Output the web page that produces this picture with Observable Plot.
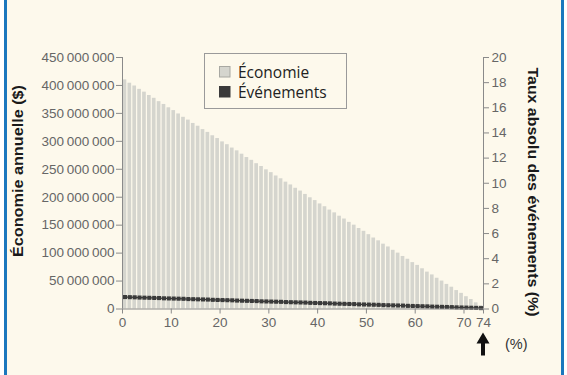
<!DOCTYPE html>
<html>
<head>
<meta charset="utf-8">
<script src="https://cdn.jsdelivr.net/npm/d3@7"></script>
<script src="https://cdn.jsdelivr.net/npm/@observablehq/plot@0.6"></script>
<style>
  html, body { margin: 0; padding: 0; background: #ffffff; }
  #frame { position: relative; width: 567px; height: 375px; overflow: hidden; background: #ffffff; }
  #panel { position: absolute; left: 4px; top: 0; width: 560px; height: 375px; background: #fdf9ec;
           border-left: 3px solid #1b77bd; border-right: 3px solid #1b77bd; box-sizing: border-box; }
  #chart { position: absolute; left: 0; top: 0; }
</style>
</head>
<body>
<div id="frame"><div id="panel"></div><div id="chart"></div></div>
<script>
// ---- data ----
const pct = d3.range(74); // categories 0..73 (%)
const economy = [ // annual savings, millions of $
  410, 404, 399, 393, 388, 382, 377, 371, 366, 360,
  355, 349, 343, 338, 332, 327, 321, 316, 310, 305,
  299, 294, 288, 283, 277, 271, 266, 260, 255, 249,
  244, 238, 233, 227, 222, 216, 211, 205, 199, 194,
  188, 183, 177, 172, 166, 161, 155, 150, 144, 139,
  133, 127, 122, 116, 111, 105, 100, 94, 89, 83,
  78, 72, 66, 61, 55, 50, 44, 39, 33, 28,
  22, 17, 11, 6
];
const events = [ // absolute event rate, %
  0.95, 0.94, 0.93, 0.91, 0.90, 0.89, 0.88, 0.87, 0.85, 0.84,
  0.83, 0.82, 0.81, 0.79, 0.78, 0.77, 0.76, 0.75, 0.73, 0.72,
  0.71, 0.70, 0.69, 0.67, 0.66, 0.65, 0.64, 0.63, 0.61, 0.60,
  0.59, 0.58, 0.57, 0.55, 0.54, 0.53, 0.52, 0.51, 0.49, 0.48,
  0.47, 0.46, 0.45, 0.43, 0.42, 0.41, 0.40, 0.39, 0.37, 0.36,
  0.35, 0.34, 0.33, 0.31, 0.30, 0.29, 0.28, 0.27, 0.25, 0.24,
  0.23, 0.22, 0.21, 0.19, 0.18, 0.17, 0.16, 0.15, 0.13, 0.12,
  0.11, 0.10, 0.09, 0.07
];
const xTicks = [0, 10, 20, 30, 40, 50, 60, 70, 74];
const leftTicks = [0, 50e6, 100e6, 150e6, 200e6, 250e6, 300e6, 350e6, 400e6, 450e6];
const rightTicks = [0, 2, 4, 6, 8, 10, 12, 14, 16, 18, 20];
const leftMax = 450e6, rightMax = 20;
const ratio = leftMax / rightMax; // right-axis unit in left-axis units

const leftTitle = "Économie annuelle ($)";
const rightTitle = "Taux absolu des événements (%)";
const legendLabels = ["Économie", "Événements"];
const xUnit = "(%)";

const table = pct.map((p, i) => ({pct: p, economy: economy[i] * 1e6, events: events[i]}));

const barColor = "#d5d5ce";
const evColor = "#3a3a3a";
const axisColor = "#8a8a8a";
const tickText = "#666666";
const tickFont = "'Liberation Sans', Arial, sans-serif";
const tickSize = 13.5;
const frFmt = d => d3.format(",")(d).replace(/,/g, "\u2009");

const plot = Plot.plot({
  width: 567, height: 375,
  marginLeft: 122, marginRight: 84, marginTop: 57, marginBottom: 66.5,
  style: {background: "transparent", fontFamily: tickFont, fontSize: tickSize + "px"},
  x: {domain: [0, 74]},
  y: {domain: [0, leftMax]},
  marks: [
    Plot.rectY(table, {x1: d => d.pct, x2: d => d.pct + 1, y: "economy", fill: barColor, insetLeft: 0.6, insetRight: 0.6}),
    Plot.line(table, {x: d => d.pct + 0.5, y: d => d.events * ratio, stroke: evColor, strokeWidth: 1.2}),
    Plot.dot(table, {x: d => d.pct + 0.5, y: d => d.events * ratio, symbol: "square", r: 2.3, fill: evColor}),
    Plot.axisY(leftTicks, {anchor: "left", tickSize: 6, tickPadding: 2, tickFormat: frFmt, label: null, stroke: axisColor, fill: tickText, fontSize: tickSize}),
    Plot.axisY(rightTicks.map(v => v * ratio), {anchor: "right", tickSize: 5, tickPadding: 3, tickFormat: d => String(Math.round(d / ratio)), label: null, stroke: axisColor, fill: tickText, fontSize: tickSize}),
    Plot.axisX(xTicks, {anchor: "bottom", tickSize: 5, tickPadding: 3, label: null, stroke: axisColor, fill: tickText, fontSize: tickSize}),
    Plot.ruleX([0, 74], {stroke: axisColor}),
    Plot.ruleY([0], {stroke: axisColor})
  ]
});
document.getElementById("chart").appendChild(plot);

const sx = plot.scale("x"), sy = plot.scale("y");
const svg = d3.select(plot);
const X74 = sx.apply(74), Y0 = sy.apply(0);

// axis titles
svg.append("text")
  .attr("transform", `translate(23,171) rotate(-90)`)
  .attr("text-anchor", "middle")
  .attr("font-family", "'Liberation Sans', Arial, sans-serif")
  .attr("font-weight", "bold").attr("font-size", 14.5).attr("fill", "#1a1a1a")
  .attr("textLength", 172).attr("lengthAdjust", "spacingAndGlyphs")
  .text(leftTitle);
svg.append("text")
  .attr("transform", `translate(528,192) rotate(90)`)
  .attr("text-anchor", "middle")
  .attr("font-family", "'Liberation Sans', Arial, sans-serif")
  .attr("font-weight", "bold").attr("font-size", 14.5).attr("fill", "#1a1a1a")
  .attr("textLength", 249).attr("lengthAdjust", "spacingAndGlyphs")
  .text(rightTitle);

// arrow under 74 and unit
svg.append("path")
  .attr("d", `M${X74},${Y0 + 24} L${X74 + 6.5},${Y0 + 35} L${X74 + 2},${Y0 + 35} L${X74 + 2},${Y0 + 47} L${X74 - 2},${Y0 + 47} L${X74 - 2},${Y0 + 35} L${X74 - 6.5},${Y0 + 35} Z`)
  .attr("fill", "#111");
svg.append("text")
  .attr("x", X74 + 22).attr("y", Y0 + 40)
  .attr("text-anchor", "start")
  .attr("font-family", tickFont)
  .attr("font-size", 14.5).attr("fill", "#333")
  .text(xUnit);

// legend
const lg = svg.append("g");
lg.append("rect").attr("x", 204.5).attr("y", 53.5).attr("width", 142).attr("height", 55)
  .attr("fill", "#fdf9ec").attr("stroke", "#9a9a9a");
const swatches = [barColor, evColor];
legendLabels.forEach((lab, i) => {
  lg.append("rect").attr("x", 219.5).attr("y", 66.5 + i * 20).attr("width", 10.5).attr("height", 10.5)
    .attr("fill", swatches[i]).attr("stroke", i === 0 ? "#a8a8a2" : evColor);
  lg.append("text").attr("x", 238).attr("y", 78 + i * 20)
    .attr("text-anchor", "start")
    .attr("font-family", "'Open Sans', 'Noto Sans', sans-serif").attr("font-size", 15.5).attr("fill", "#222")
    .text(lab);
});
</script>
</body>
</html>
